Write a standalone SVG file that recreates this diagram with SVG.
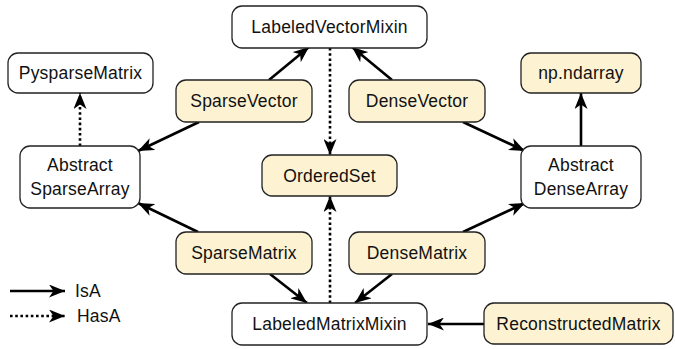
<svg xmlns="http://www.w3.org/2000/svg" width="675" height="349" viewBox="0 0 675 349">
<style>
.n rect{stroke:#222;stroke-width:1.3;fill:#fff}
.y rect{fill:#fdf3d3}
text{font-family:"Liberation Sans",Arial,sans-serif;font-size:17.5px;letter-spacing:0.2px;fill:#111;text-anchor:middle}
.c line{stroke:#000;stroke-width:2.6;marker-end:url(#ah)}
.c line.d{stroke-dasharray:2.6 2.6}
</style>
<defs>
<marker id="ah" markerUnits="userSpaceOnUse" markerWidth="17" markerHeight="13" refX="16" refY="6.5" orient="auto" viewBox="0 0 17 13">
<path d="M0,0 L16,6.5 L0,13 L4.5,6.5 z" fill="#000"/>
</marker>
</defs>
<g id="connectors" class="c">
<line x1="269" y1="80" x2="309" y2="47"/>
<line x1="392" y1="80" x2="352" y2="47"/>
<line x1="199" y1="122" x2="138" y2="151"/>
<line x1="463" y1="122" x2="525" y2="151"/>
<line class="d" x1="80" y1="146" x2="80" y2="93"/>
<line x1="581" y1="146" x2="581" y2="93"/>
<line class="d" x1="330" y1="48" x2="330" y2="155"/>
<line class="d" x1="330" y1="303" x2="330" y2="196"/>
<line x1="198" y1="232" x2="138" y2="203"/>
<line x1="463" y1="232" x2="525" y2="203"/>
<line x1="270" y1="274" x2="307" y2="303"/>
<line x1="392" y1="274" x2="355" y2="303"/>
<line x1="484" y1="324" x2="428" y2="324"/>
<line x1="10" y1="291" x2="65" y2="291"/>
<line class="d" x1="10" y1="316" x2="65" y2="316"/>
</g>
<g id="LabeledVectorMixin" class="n"><rect x="232" y="6" width="195" height="42" rx="10"/><text x="329.5" y="33">LabeledVectorMixin</text></g>
<g id="PysparseMatrix" class="n"><rect x="8" y="53" width="145" height="40" rx="10"/><text x="80.5" y="79">PysparseMatrix</text></g>
<g id="SparseVector" class="n y"><rect x="176" y="80" width="136" height="42" rx="10"/><text x="244" y="107">SparseVector</text></g>
<g id="DenseVector" class="n y"><rect x="349" y="80" width="136" height="42" rx="10"/><text x="417" y="107">DenseVector</text></g>
<g id="npndarray" class="n y"><rect x="521" y="53" width="120" height="40" rx="10"/><text x="581" y="79">np.ndarray</text></g>
<g id="AbstractSparseArray" class="n"><rect x="20" y="146" width="120" height="62" rx="10"/><text x="80" y="171">Abstract</text><text x="80" y="195">SparseArray</text></g>
<g id="OrderedSet" class="n y"><rect x="262" y="155" width="135" height="41" rx="10"/><text x="329.5" y="181.5">OrderedSet</text></g>
<g id="AbstractDenseArray" class="n"><rect x="521" y="146" width="120" height="62" rx="10"/><text x="581" y="171">Abstract</text><text x="581" y="195">DenseArray</text></g>
<g id="SparseMatrix" class="n y"><rect x="176" y="232" width="136" height="42" rx="10"/><text x="244" y="259">SparseMatrix</text></g>
<g id="DenseMatrix" class="n y"><rect x="349" y="232" width="136" height="42" rx="10"/><text x="417" y="259">DenseMatrix</text></g>
<g id="LabeledMatrixMixin" class="n"><rect x="232" y="303" width="195" height="42" rx="10"/><text x="329.5" y="330">LabeledMatrixMixin</text></g>
<g id="ReconstructedMatrix" class="n y"><rect x="484" y="303" width="189" height="41" rx="10"/><text x="578.5" y="329.5">ReconstructedMatrix</text></g>
<g id="legend">
<text x="75" y="297" style="text-anchor:start">IsA</text>
<text x="77" y="322" style="text-anchor:start">HasA</text>
</g>
</svg>
